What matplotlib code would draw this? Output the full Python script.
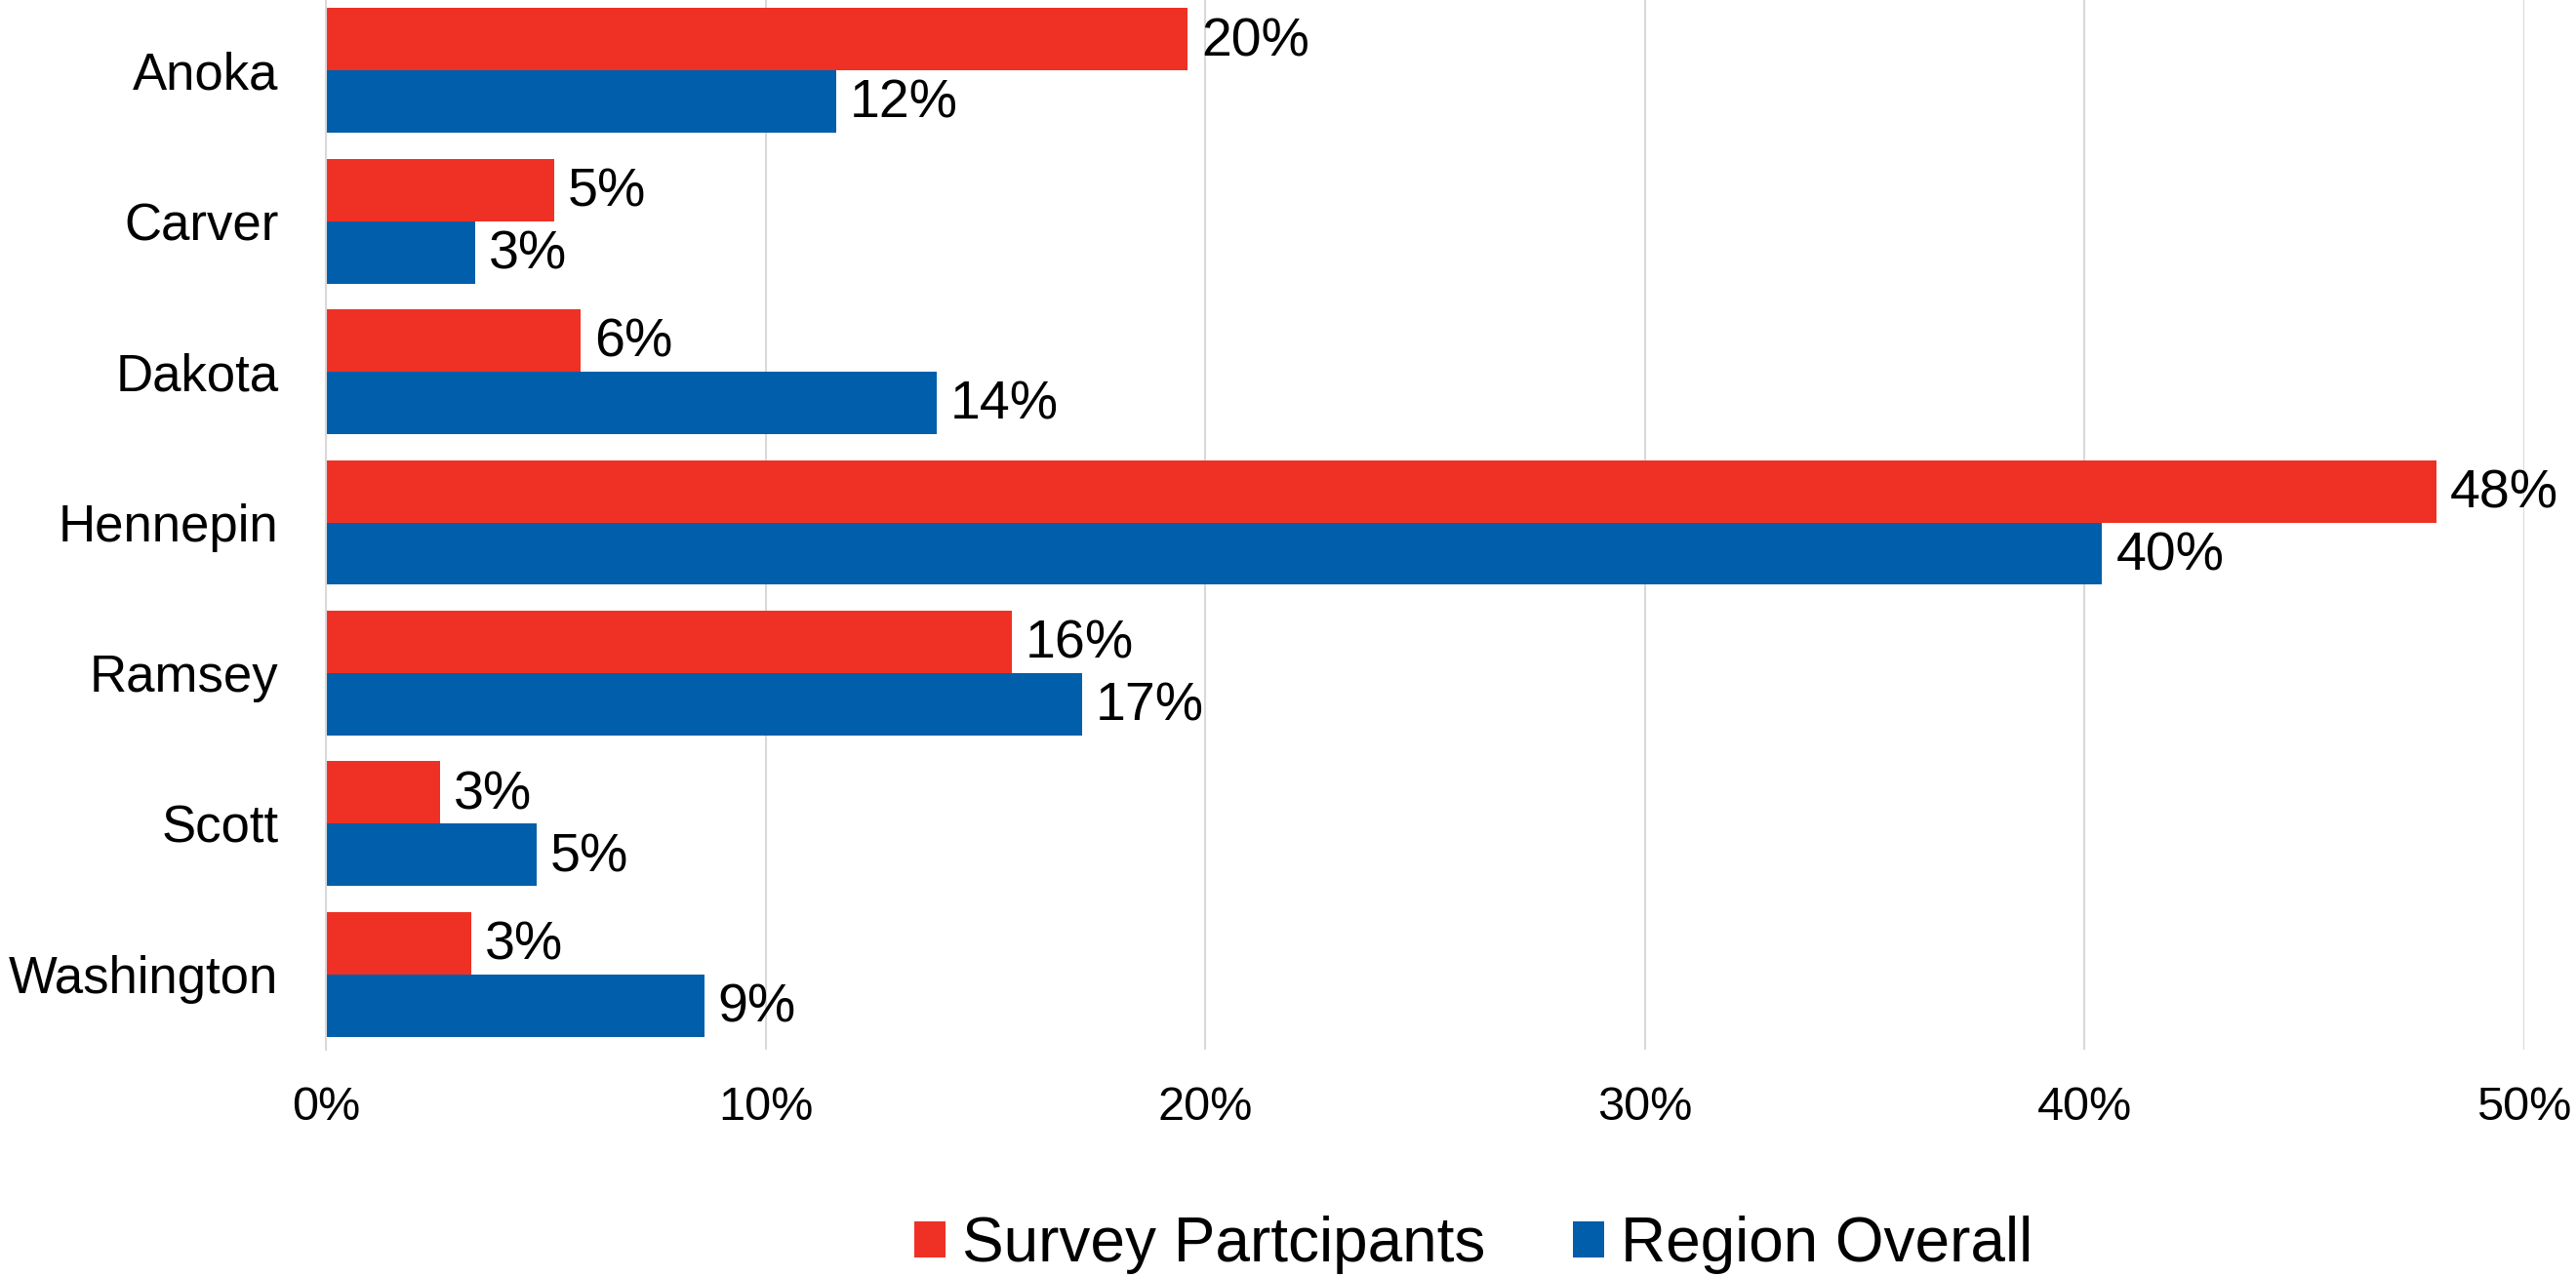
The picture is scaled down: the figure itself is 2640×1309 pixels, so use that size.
import numpy as np
import matplotlib.pyplot as plt

plt.rcParams['font.family'] = ['Liberation Sans', 'DejaVu Sans']

# data
counties = ["Anoka", "Carver", "Dakota", "Hennepin", "Ramsey", "Scott", "Washington"]
survey = [19.6, 5.2, 5.8, 48.0, 15.6, 2.6, 3.3]
region = [11.6, 3.4, 13.9, 40.4, 17.2, 4.8, 8.6]
xticks = [0, 10, 20, 30, 40, 50]

RED = "#EE3124"
BLUE = "#005EAA"
GRID = "#D9D9D9"

fig = plt.figure(figsize=(26.4, 13.09), dpi=100)
ax = fig.add_axes([334 / 2640, 1 - 1076 / 1309, (2587 - 334) / 2640, 1081 / 1309])

y = np.arange(len(counties))
h = 0.414
b1 = ax.barh(y - h / 2, survey, height=h, color=RED, label="Survey Partcipants", zorder=3)
b2 = ax.barh(y + h / 2, region, height=h, color=BLUE, label="Region Overall", zorder=3)

# value labels, nudged slightly down like the original
for bars, vals in [(b1, survey), (b2, region)]:
    for bar, v in zip(bars, vals):
        ax.annotate(f"{v:.0f}%", (bar.get_width(), bar.get_y() + bar.get_height() / 2),
                    xytext=(10, -2), textcoords='offset points',
                    ha='left', va='center', fontsize=40)

ax.set_xlim(0, 50)
ax.set_ylim(len(counties) - 0.5, -0.5)
ax.set_xticks(xticks)
ax.set_xticklabels([f"{t}%" for t in xticks], fontsize=35)
ax.set_yticks(y)
ax.set_yticklabels(counties, fontsize=38)
ax.tick_params(axis='x', length=0, pad=27)
ax.tick_params(axis='y', length=0, pad=35)

ax.grid(axis='x', color=GRID, linewidth=1.5, zorder=0)
for s in ['top', 'right', 'bottom']:
    ax.spines[s].set_visible(False)
ax.spines['left'].set_color(GRID)
ax.spines['left'].set_linewidth(1.5)
ax.spines['left'].set_zorder(4)

fig.legend(handles=[b1, b2], loc='center', bbox_to_anchor=(1510 / 2640, 1 - 1276 / 1309),
           ncol=2, frameon=False, fontsize=46, handlelength=0.5, handleheight=0.5,
           handletextpad=0.27, columnspacing=1.4)

fig.savefig("out.png", dpi=100)
